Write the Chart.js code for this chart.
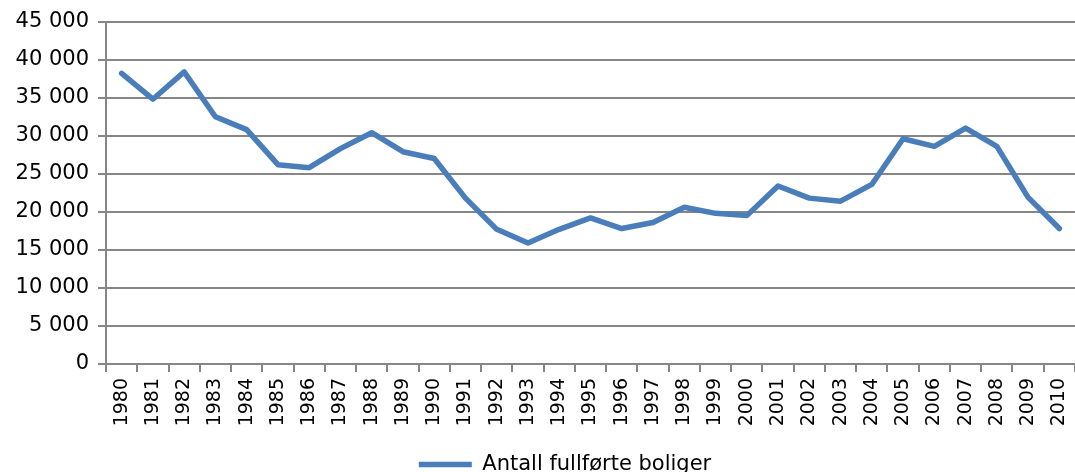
<!DOCTYPE html>
<html>
<head>
<meta charset="utf-8">
<script src="https://cdn.jsdelivr.net/npm/chart.js@4"></script>
<style>
  html, body { margin: 0; padding: 0; background: #fff; }
  #wrap { width: 1075px; height: 472px; }
</style>
</head>
<body>
<div id="wrap"><canvas id="chart" width="1075" height="472"></canvas></div>
<script>
const years = ['1980','1981','1982','1983','1984','1985','1986','1987','1988','1989','1990',
  '1991','1992','1993','1994','1995','1996','1997','1998','1999','2000',
  '2001','2002','2003','2004','2005','2006','2007','2008','2009','2010'];

const completedHomes = [38200, 34800, 38400, 32500, 30800, 26200, 25800, 28300, 30400, 27900, 27000,
  21800, 17700, 15900, 17700, 19200, 17800, 18600, 20600, 19800, 19500,
  23400, 21800, 21400, 23600, 29600, 28600, 31000, 28600, 21900, 17800];

const seriesName = 'Antall fullførte boliger';

// 45 000 style labels
const fmt = v => String(v).replace(/\B(?=(\d{3})+(?!\d))/g, ' ');

const grey = '#868686';
const fontFamily = "'DejaVu Sans', sans-serif";

// legend sits a bit right of the canvas centre in the original
const nudgeLegend = {
  id: 'nudgeLegend',
  afterLayout(chart) {
    chart.legend.left += 24;
    chart.legend.right += 24;
  }
};

new Chart(document.getElementById('chart'), {
  type: 'line',
  data: {
    labels: years,
    datasets: [{
      label: seriesName,
      data: completedHomes,
      borderColor: '#4a7ebb',
      backgroundColor: '#4a7ebb',
      borderWidth: 5.5,
      borderCapStyle: 'round',
      borderJoinStyle: 'round',
      pointRadius: 0,
      tension: 0,
      fill: false
    }]
  },
  plugins: [nudgeLegend],
  options: {
    responsive: false,
    animation: false,
    layout: { padding: { top: 20, right: -7, bottom: -13, left: 0 } },
    plugins: {
      tooltip: { enabled: false },
      legend: {
        position: 'bottom',
        labels: {
          usePointStyle: true,
          pointStyleWidth: 53,
          pointStyle: 'line',
          padding: 6,
          color: '#000',
          font: { family: fontFamily, size: 21 }
        }
      }
    },
    scales: {
      x: {
        offset: true,
        grid: { display: true, drawOnChartArea: false, offset: true, tickLength: 8, color: grey, lineWidth: 2 },
        border: { color: grey, width: 2 },
        ticks: {
          autoSkip: false,
          minRotation: 90,
          maxRotation: 90,
          padding: 6,
          color: '#000',
          font: { family: fontFamily, size: 19 }
        },
        afterFit: s => { s.height = 84; s.paddingLeft = 0; s.paddingRight = 0; }
      },
      y: {
        min: 0,
        max: 45000,
        grid: { color: grey, lineWidth: 2, tickLength: 8 },
        border: { color: grey, width: 2 },
        ticks: {
          stepSize: 5000,
          padding: 9,
          color: '#000',
          font: { family: fontFamily, size: 21 },
          callback: v => fmt(v)
        },
        afterFit: s => { s.width = 106; }
      }
    }
  }
});
</script>
</body>
</html>
